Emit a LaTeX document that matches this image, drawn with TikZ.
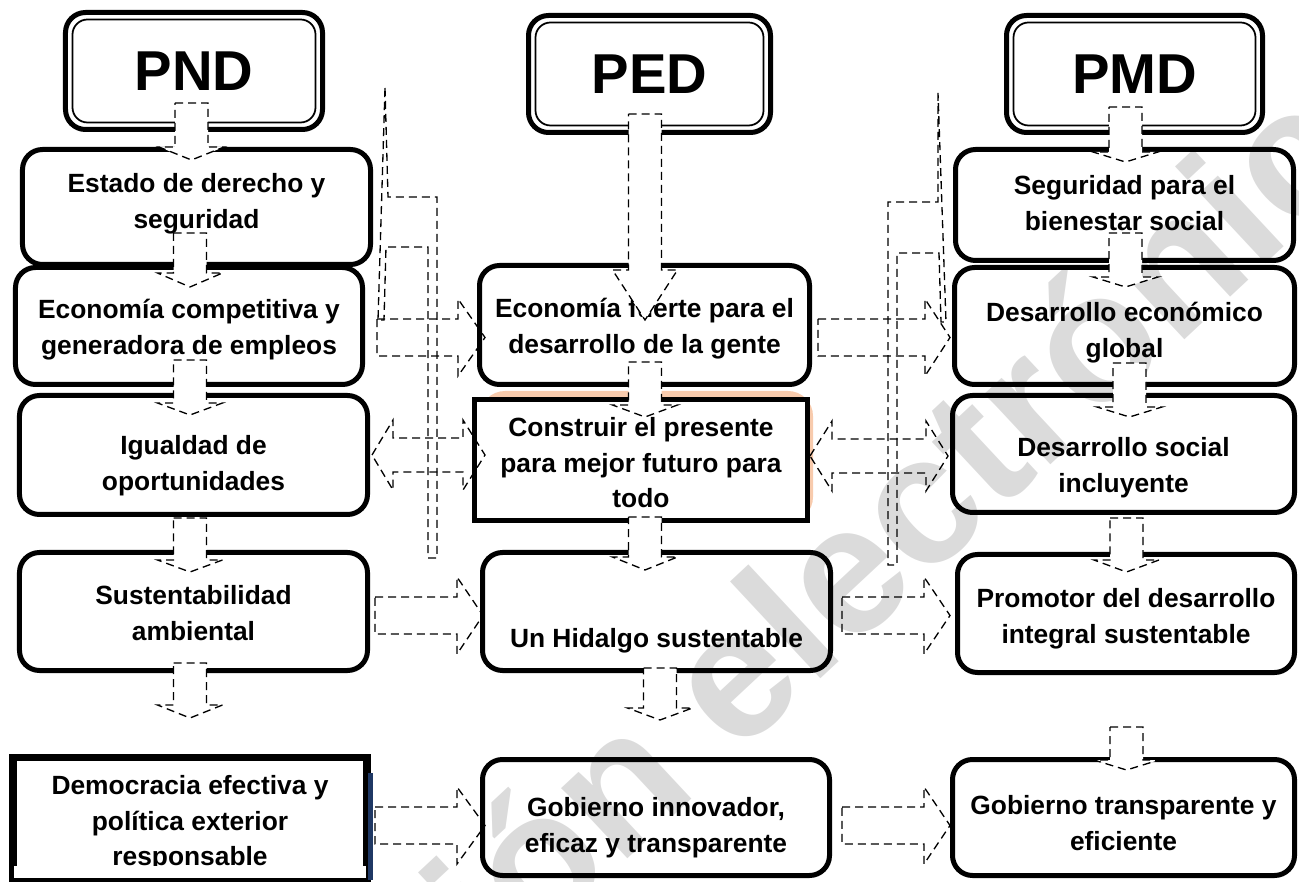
\documentclass[tikz,border=0pt]{standalone}
\usepackage{fontspec}
\setmainfont{Liberation Sans}
\definecolor{marino}{RGB}{31,56,100}
\definecolor{naranja}{RGB}{248,203,173}
\tikzset{
  caja/.style={draw, line width=1mm, rounded corners=4mm, align=center, inner sep=0pt, font=\bfseries\fontsize{15}{20}\selectfont},
  cuadro/.style={caja, sharp corners},
  plan/.style={caja, font=\bfseries\fontsize{32}{36}\selectfont},
  bloque/.style={draw, fill=white, line width=0.75pt, dash pattern=on 1.6mm off 1mm},
  hueco/.style={draw, line width=0.75pt, dash pattern=on 1.6mm off 1mm}
}
\newcommand{\texto}[2][0mm]{\raisebox{#1}[0pt][0pt]{\begin{tabular}{@{}c@{}}#2\end{tabular}}}
\newcommand{\bajada}[4]{\draw[bloque] (#1-16.5,#2) -- (#1+16.5,#2) -- (#1+16.5,#3) -- (#1+32.5,#3) -- (#1,#4) -- (#1-32.5,#3) -- (#1-16.5,#3) -- cycle;}
\newcommand{\derecha}[4]{\draw[hueco] (#1,#4-18.5) -- (#2,#4-18.5) -- (#2,#4-38.5) -- (#3,#4) -- (#2,#4+38.5) -- (#2,#4+18.5) -- (#1,#4+18.5) -- cycle;}
\newcommand{\doble}[5]{\draw[hueco] (#1,#5) -- (#2,#5-35) -- (#2,#5-17) -- (#3,#5-17) -- (#3,#5-35) -- (#4,#5) -- (#3,#5+35) -- (#3,#5+17) -- (#2,#5+17) -- (#2,#5+35) -- cycle;}
\begin{document}
\begin{tikzpicture}[x=0.2mm, y=-0.2mm]
            \useasboundingbox (0,0) rectangle (1299,882);
            \node[rotate=43, text=black!14, anchor=base west, inner sep=0pt, font=\bfseries\fontsize{104}{104}\selectfont] (marca) at (499,979) {ión electrónica};

            \fill[naranja, rounded corners=5mm] (480,391) rectangle (813,522);

            \node[plan, minimum width=51.4mm, minimum height=23.4mm] (pnd) at (194,71) {PND};
            \node[plan, minimum width=48.4mm, minimum height=23.4mm] (ped) at (649.5,74) {PED};
            \node[plan, minimum width=51.2mm, minimum height=23.4mm] (pmd) at (1134.5,74) {PMD};
            \foreach \p in {pnd, ped, pmd}
                \draw[line width=0.35mm, rounded corners=3mm] ([shift={(1.9mm,1.9mm)}]\p.south west) rectangle ([shift={(-1.9mm,-1.9mm)}]\p.north east);

            \node[caja, minimum width=69.6mm, minimum height=23mm] (estado) at (196.5,207) {\texto[-0.56mm]{Estado de derecho y\\seguridad}};
            \node[caja, minimum width=69.4mm, minimum height=23.4mm] (economia) at (189,326) {\texto[-1.96mm]{Economía competitiva y\\generadora de empleos}};
            \node[caja, minimum width=69.6mm, minimum height=23.8mm] (igualdad) at (193.5,455) {\texto[-3.36mm]{Igualdad de\\oportunidades}};
            \node[caja, minimum width=69.6mm, minimum height=23.6mm] (sustentabilidad) at (193.5,611.5) {\texto[-2.06mm]{Sustentabilidad\\ambiental}};
            \begin{scope}
                \clip (0,740) rectangle (400,865);
                \node[cuadro, minimum width=70.2mm, minimum height=23.8mm] (democracia) at (190,818) {\texto[-2.26mm]{Democracia efectiva y\\política exterior\\responsable}};
            \end{scope}
            \draw[line width=1mm] (democracia.south west) rectangle (democracia.north east);
            \fill[marino] (368,773) rectangle (373,880);

            \node[caja, minimum width=66mm, minimum height=23.8mm] (fuerte) at (644.5,325) {\texto[-1.96mm]{Economía fuerte para el\\desarrollo de la gente}};
            \node[cuadro, fill=white, minimum width=66.6mm, minimum height=24.2mm] (construir) at (641,460) {\texto[-2.26mm]{Construir el presente\\para mejor futuro para\\todo}};
            \node[caja, minimum width=69.6mm, minimum height=23.6mm] (hidalgo) at (656.5,611.5) {\texto[-6.96mm]{Un Hidalgo sustentable}};
            \node[caja, minimum width=69.4mm, minimum height=23.2mm] (innovador) at (656,817.5) {\texto[-3.26mm]{Gobierno innovador,\\eficaz y transparente}};

            \node[caja, minimum width=67.6mm, minimum height=22.2mm] (seguridad) at (1124.5,205) {\texto[-1.36mm]{Seguridad para el\\bienestar social}};
            \node[caja, minimum width=68mm, minimum height=23.4mm] (global) at (1124.5,326) {\texto[-2.56mm]{Desarrollo económico\\global}};
            \node[caja, minimum width=68.4mm, minimum height=23.4mm] (social) at (1123.5,454) {\texto[-3.96mm]{Desarrollo social\\incluyente}};
            \node[caja, minimum width=67.4mm, minimum height=23.6mm] (promotor) at (1126,613.5) {\texto[-2.26mm]{Promotor del desarrollo\\integral sustentable}};
            \node[caja, minimum width=68.4mm, minimum height=23.2mm] (transparente) at (1123.5,817.5) {\texto[-2.86mm]{Gobierno transparente y\\eficiente}};

            \bajada{191.5}{103}{147}{160}
            \bajada{190}{233}{273}{287}
            \bajada{190}{360}{403}{415}
            \bajada{190}{518}{560}{572}
            \bajada{190}{663}{705}{718}
            \bajada{645}{114}{270}{320}
            \bajada{645}{362}{405}{417}
            \bajada{645}{517}{557}{570}
            \bajada{660}{668}{708}{720}
            \bajada{1125.5}{107}{152}{162}
            \bajada{1125.5}{233}{277}{287}
            \bajada{1129.5}{363}{407}{417}
            \bajada{1126.5}{518}{560}{572}
            \bajada{1126.5}{727}{760}{770}

            \derecha{377}{458}{485}{337.5}
            \derecha{375}{457}{483}{615.5}
            \derecha{375}{457}{485}{825.5}
            \derecha{818}{925}{950}{337.5}
            \derecha{842}{924}{950}{615.5}
            \derecha{842}{924}{950}{825.5}
            \doble{372}{393}{463}{485}{455}
            \doble{810}{832}{926}{948}{456}

            \draw[hueco] (385,88) -- (388,197) -- (437,197) -- (437,558) -- (428,558) -- (428,247) -- (386,247) -- (384,320) -- (378,320) -- cycle;
            \draw[hueco] (938,93) -- (938,202) -- (888,202) -- (888,565) -- (897,565) -- (897,253) -- (939,253) -- (941,322) -- (946,322) -- cycle;
\end{tikzpicture}
\end{document}
